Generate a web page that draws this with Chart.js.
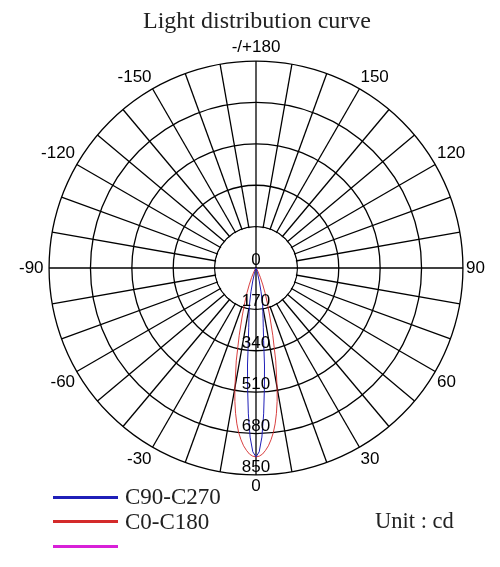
<!DOCTYPE html>
<html>
<head>
<meta charset="utf-8">
<script src="https://cdn.jsdelivr.net/npm/chart.js@4.4.1/dist/chart.umd.min.js"></script>
<style>
  body { margin: 0; background: #fff; }
  #wrap { position: relative; width: 500px; height: 567px; overflow: hidden; background: #fff; }
  #lightChart { position: absolute; left: 0; top: 0; }
  .title { position: absolute; left: 0; top: 6px; width: 514px; text-align: center; font: 24px "Liberation Serif", serif; line-height: 28px; color: #222; }
  #legend { position: absolute; left: 53px; top: 485px; font: 23px "Liberation Serif", serif; color: #222; }
  #legend .row { display: flex; align-items: center; height: 24.5px; }
  #legend .line { width: 65px; height: 3px; margin-right: 7px; }
  .unit { position: absolute; left: 375px; top: 509px; font: 22.5px "Liberation Serif", serif; line-height: 24px; color: #222; }
</style>
</head>
<body>
<div id="wrap">
  <canvas id="lightChart" width="500" height="567"></canvas>
  <div class="title">Light distribution curve</div>
  <div id="legend"></div>
  <div class="unit">Unit : cd</div>
</div>
<script>
// measured points (degrees from the optical axis), same on both sides
const angleDeg = [0, 1, 2, 3, 4, 5, 6, 7, 8, 9, 10, 12, 14, 16, 18, 20, 22, 25, 30, 35, 40];
const c0c180  = [776, 773, 765, 750, 732, 708, 680, 645, 603, 555, 500, 390, 285, 205, 150, 108, 75, 42, 16, 5, 0];
const c90c270 = [776, 755, 695, 600, 495, 400, 300, 245, 208, 180, 158, 100, 55, 25, 10, 0, 0, 0, 0, 0, 0];

// intensity rings (cd)
const ringTicks = [0, 170, 340, 510, 680, 850];
// angle labels shown round the circle
const shownAngles = [180, 150, 120, 90, 60, 30, 0, -30, -60, -90, -120, -150];

const gridColor = '#000';

// one category per degree, clockwise from the top (180)
const labels = [];
for (let i = 0; i < 360; i++) labels.push(180 - i);

function toSeries(values) {
    const out = new Array(360).fill(null);
    angleDeg.forEach(function(a, k) {
        out[180 - a] = values[k];
        out[(180 + a) % 360] = values[k];
    });
    return out;
}

// white centre disk: spokes start at the first ring, only the cross goes through
const innerDisk = {
    id: 'innerDisk',
    beforeDatasetsDraw(chart) {
        const r = chart.scales.r;
        const c = chart.ctx;
        const rad = r.getDistanceFromCenterForValue(ringTicks[1]);
        c.save();
        c.fillStyle = '#fff';
        c.beginPath();
        c.arc(r.xCenter, r.yCenter, rad - 0.8, 0, Math.PI * 2);
        c.fill();
        c.strokeStyle = gridColor;
        c.lineWidth = 1.3;
        c.beginPath();
        c.moveTo(r.xCenter - rad, r.yCenter);
        c.lineTo(r.xCenter + rad, r.yCenter);
        c.moveTo(r.xCenter, r.yCenter - rad);
        c.lineTo(r.xCenter, r.yCenter + rad);
        c.stroke();
        c.restore();
    }
};

// ring values written down the 0 degree axis
const ringLabels = {
    id: 'ringLabels',
    afterDatasetsDraw(chart) {
        const r = chart.scales.r;
        const c = chart.ctx;
        c.save();
        c.font = '17px "Liberation Sans", Arial, sans-serif';
        c.fillStyle = '#000';
        c.textAlign = 'center';
        c.textBaseline = 'alphabetic';
        r.ticks.forEach(function(t) {
            const d = r.getDistanceFromCenterForValue(t.value);
            c.fillText(String(t.value), r.xCenter, r.yCenter + d - 3);
        });
        c.restore();
    }
};

function labelPadding(index) {
    const a = labels[index];
    if (a === 180) return 4;
    if (a === 0) return 1.5;
    if (a === 90) return 3;
    if (a === -90) return 5.5;
    if (shownAngles.indexOf(a) >= 0) return 2;
    return 0;
}

const ctx = document.getElementById('lightChart').getContext('2d');
const lightChart = new Chart(ctx, {
    type: 'radar',
    data: {
        labels: labels,
        datasets: [{
            label: 'C90-C270',
            data: toSeries(c90c270),
            borderColor: '#1f1fb8',
            borderWidth: 1,
            fill: false,
            pointRadius: 0,
            spanGaps: true
        }, {
            label: 'C0-C180',
            data: toSeries(c0c180),
            borderColor: '#d42a2a',
            borderWidth: 0.9,
            fill: false,
            pointRadius: 0,
            spanGaps: true
        }, {
            label: '',
            data: [],
            borderColor: '#d820d8',
            borderWidth: 1,
            fill: false,
            pointRadius: 0
        }]
    },
    options: {
        responsive: false,
        animation: false,
        layout: {
            padding: { left: 15, right: 11, top: 30, bottom: 63 }
        },
        plugins: {
            legend: { display: false },
            tooltip: { enabled: false }
        },
        scales: {
            r: {
                min: 0,
                max: 850,
                ticks: { stepSize: 170, display: false },
                grid: { circular: true, color: gridColor, lineWidth: 1.3 },
                angleLines: {
                    color: gridColor,
                    lineWidth: function(c) { return c.index % 10 === 0 ? 1.3 : 0; }
                },
                pointLabels: {
                    color: '#000',
                    font: { family: '"Liberation Sans", Arial, sans-serif', size: 17 },
                    padding: function(c) { return labelPadding(c.index); },
                    callback: function(label) {
                        if (label === 180) return '-/+180';
                        return shownAngles.indexOf(label) >= 0 ? String(label) : '';
                    }
                }
            }
        }
    },
    plugins: [innerDisk, ringLabels]
});

// legend rows built from the datasets
const legendBox = document.getElementById('legend');
lightChart.data.datasets.forEach(function(ds) {
    const row = document.createElement('div');
    row.className = 'row';
    const line = document.createElement('span');
    line.className = 'line';
    line.style.background = ds.borderColor;
    const txt = document.createElement('span');
    txt.textContent = ds.label;
    row.appendChild(line);
    row.appendChild(txt);
    legendBox.appendChild(row);
});
</script>
</body>
</html>
